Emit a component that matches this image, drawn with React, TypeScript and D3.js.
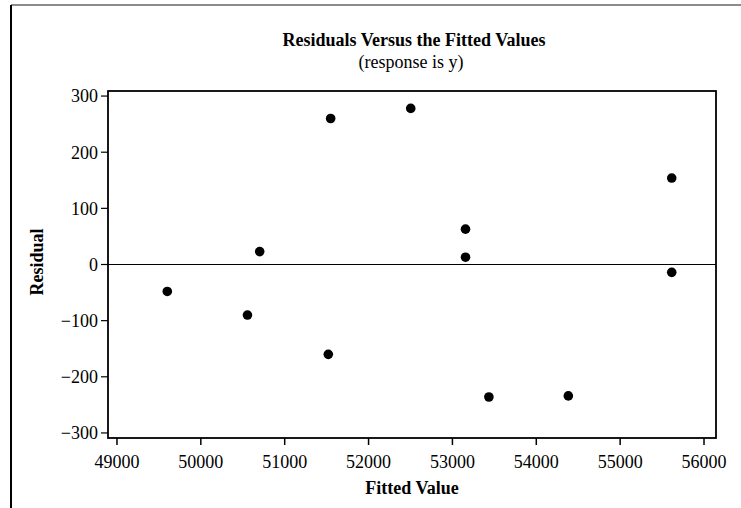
import React from "react";
import * as d3 from "d3";

const fittedValues = [49600, 50556, 50702, 51520, 51548, 52503, 53156, 53156, 53435, 54382, 55615, 55615];
const residuals = [-48, -90, 23, -160, 260, 278, 63, 13, -236, -234, 154, -14];
const xTicks = [49000, 50000, 51000, 52000, 53000, 54000, 55000, 56000];
const yTicks = [-300, -200, -100, 0, 100, 200, 300];
const titleText = "Residuals Versus the Fitted Values";
const subtitleText = "(response is y)";
const xLabel = "Fitted Value";
const yLabel = "Residual";

const W = 741;
const H = 508;
const left = 108, right = 716, top = 91, bottom = 438;
const font = "'Liberation Serif', 'Times New Roman', serif";

export default function App() {
  const x = d3.scaleLinear().domain([48893, 56143]).range([left, right]);
  const y = d3.scaleLinear().domain([-309, 309]).range([bottom, top]);
  const fmt = (v: number) => (v < 0 ? "\u2212" + Math.abs(v) : String(v));
  const pts = fittedValues.map((f, i) => ({ f, r: residuals[i] }));
  return (
    <svg width={W} height={H} style={{ position: "absolute", left: 0, top: 0, background: "#fff" }} fontFamily={font}>
      <rect x={0} y={0} width={W} height={H} fill="#fff" />
      {/* scanned frame */}
      <line x1={11} x2={W} y1={5} y2={5} stroke="#666" strokeWidth={1.5} />
      <line x1={11} x2={11} y1={5} y2={H} stroke="#000" strokeWidth={2} />
      {/* titles */}
      <text x={414} y={46} textAnchor="middle" fontSize={18} fontWeight="bold" fill="#000">{titleText}</text>
      <text x={411} y={68} textAnchor="middle" fontSize={18} fill="#000">{subtitleText}</text>
      {/* zero reference line */}
      <line x1={left} x2={right} y1={y(0)} y2={y(0)} stroke="#000" strokeWidth={1.2} />
      {/* plot frame */}
      <rect x={left} y={top} width={right - left} height={bottom - top} fill="none" stroke="#000" strokeWidth={1.8} />
      {/* y axis */}
      {yTicks.map((t) => (
        <g key={"y" + t}>
          <line x1={left - 7} x2={left} y1={y(t)} y2={y(t)} stroke="#000" strokeWidth={1.2} />
          <text x={left - 10} y={y(t)} dy="0.35em" textAnchor="end" fontSize={18} fill="#000">{fmt(t)}</text>
        </g>
      ))}
      {/* x axis */}
      {xTicks.map((t) => (
        <g key={"x" + t}>
          <line x1={x(t)} x2={x(t)} y1={bottom} y2={bottom + 7} stroke="#000" strokeWidth={1.5} />
          <text x={x(t)} y={468} textAnchor="middle" fontSize={18} fill="#000">{t}</text>
        </g>
      ))}
      <text x={412} y={494} textAnchor="middle" fontSize={18} fontWeight="bold" fill="#000">{xLabel}</text>
      <text transform={`translate(43,262) rotate(-90)`} textAnchor="middle" fontSize={18} fontWeight="bold" fill="#000">{yLabel}</text>
      {/* points */}
      {pts.map((p, i) => (
        <circle key={i} cx={x(p.f)} cy={y(p.r)} r={4.8} fill="#000" />
      ))}
    </svg>
  );
}
